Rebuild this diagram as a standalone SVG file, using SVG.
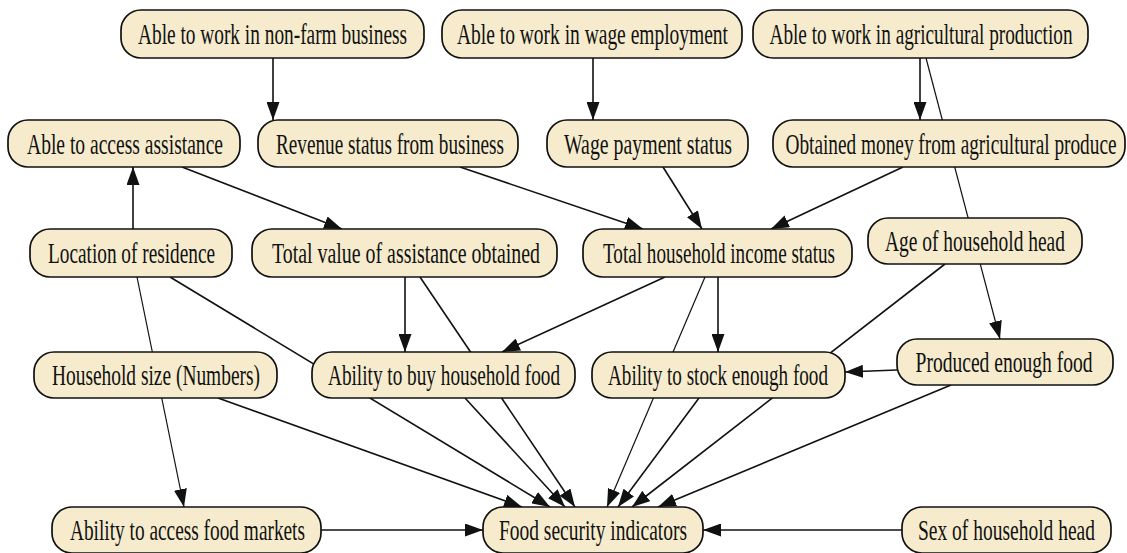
<svg xmlns="http://www.w3.org/2000/svg" width="1127" height="553" viewBox="0 0 1127 553">
<defs>
<style>
.node rect{fill:#F6ECCD;stroke:#111;stroke-width:1.7}
.node text{font-family:"Liberation Serif","Times New Roman",serif;font-size:29px;fill:#111;text-anchor:middle}
.edge line{stroke:#111;stroke-width:1.6;fill:none;marker-end:url(#arr)}
.edge line.thin{stroke-width:1.2}
</style>
<marker id="arr" markerUnits="userSpaceOnUse" markerWidth="19" markerHeight="13" refX="18" refY="6.5" orient="auto">
<path d="M0,0 L18,6.5 L0,13 z" fill="#111"/>
</marker>
</defs>
<rect width="1127" height="553" fill="#fff"/>
<g id="connectors" class="edge">
<line x1="273" y1="58" x2="273" y2="120"/>
<line x1="593" y1="58" x2="593" y2="120"/>
<line x1="920" y1="58" x2="920" y2="120"/>
<line class="thin" x1="926" y1="58" x2="1000" y2="339"/>
<line x1="133" y1="229" x2="133" y2="167"/>
<line x1="182" y1="167" x2="342" y2="229"/>
<line x1="460" y1="167" x2="643" y2="229"/>
<line x1="663" y1="167" x2="702" y2="229"/>
<line x1="903" y1="167" x2="771" y2="229"/>
<line x1="170" y1="277" x2="550" y2="507"/>
<line class="thin" x1="137" y1="277" x2="184" y2="507"/>
<line x1="405" y1="277" x2="405" y2="352"/>
<line x1="420" y1="277" x2="575" y2="507"/>
<line x1="665" y1="277" x2="502" y2="352"/>
<line x1="718" y1="277" x2="718" y2="352"/>
<line class="thin" x1="705" y1="277" x2="607" y2="507"/>
<line x1="945" y1="264" x2="632" y2="507"/>
<line x1="897" y1="370" x2="845" y2="372"/>
<line x1="218" y1="398" x2="522" y2="507"/>
<line x1="465" y1="398" x2="565" y2="507"/>
<line x1="699" y1="398" x2="618" y2="507"/>
<line x1="951" y1="385" x2="658" y2="507"/>
<line x1="321" y1="530" x2="483" y2="530"/>
<line x1="902" y1="530" x2="703" y2="530"/>
</g>
<g id="n_nonfarm" class="node"><rect x="121" y="10" width="303" height="48" rx="20"/><text transform="translate(272.5,44) scale(0.68,1)" textLength="395.6" lengthAdjust="spacingAndGlyphs">Able to work in non-farm business</text></g>
<g id="n_wage_emp" class="node"><rect x="442" y="10" width="300" height="48" rx="20"/><text transform="translate(592.5,44) scale(0.68,1)" textLength="398.5" lengthAdjust="spacingAndGlyphs">Able to work in wage employment</text></g>
<g id="n_agri" class="node"><rect x="753" y="10" width="335" height="48" rx="20"/><text transform="translate(921,44) scale(0.68,1)" textLength="445.6" lengthAdjust="spacingAndGlyphs">Able to work in agricultural production</text></g>
<g id="n_access_assist" class="node"><rect x="8" y="120" width="232" height="47" rx="20"/><text transform="translate(125,153.5) scale(0.68,1)" textLength="288.2" lengthAdjust="spacingAndGlyphs">Able to access assistance</text></g>
<g id="n_revenue" class="node"><rect x="258" y="120" width="260" height="47" rx="20"/><text transform="translate(390,153.5) scale(0.68,1)" textLength="335.3" lengthAdjust="spacingAndGlyphs">Revenue status from business</text></g>
<g id="n_wage_pay" class="node"><rect x="547" y="120" width="201" height="47" rx="20"/><text transform="translate(648,153.5) scale(0.68,1)" textLength="247.1" lengthAdjust="spacingAndGlyphs">Wage payment status</text></g>
<g id="n_obtained" class="node"><rect x="773" y="120" width="352" height="47" rx="20"/><text transform="translate(951,153.5) scale(0.68,1)" textLength="486.8" lengthAdjust="spacingAndGlyphs">Obtained money from agricultural produce</text></g>
<g id="n_location" class="node"><rect x="30" y="229" width="202" height="48" rx="20"/><text transform="translate(131.5,263) scale(0.68,1)" textLength="245.6" lengthAdjust="spacingAndGlyphs">Location of residence</text></g>
<g id="n_total_assist" class="node"><rect x="252" y="229" width="305" height="48" rx="20"/><text transform="translate(406,263) scale(0.68,1)" textLength="394.1" lengthAdjust="spacingAndGlyphs">Total value of assistance obtained</text></g>
<g id="n_income" class="node"><rect x="583" y="229" width="269" height="48" rx="20"/><text transform="translate(719,263) scale(0.68,1)" textLength="341.2" lengthAdjust="spacingAndGlyphs">Total household income status</text></g>
<g id="n_age" class="node"><rect x="868" y="218" width="214" height="46" rx="20"/><text transform="translate(975,251) scale(0.68,1)" textLength="264.7" lengthAdjust="spacingAndGlyphs">Age of household head</text></g>
<g id="n_hhsize" class="node"><rect x="34" y="352" width="243" height="46" rx="20"/><text transform="translate(156,385) scale(0.68,1)" textLength="305.9" lengthAdjust="spacingAndGlyphs">Household size (Numbers)</text></g>
<g id="n_buy" class="node"><rect x="312" y="352" width="263" height="46" rx="20"/><text transform="translate(444,385) scale(0.68,1)" textLength="341.2" lengthAdjust="spacingAndGlyphs">Ability to buy household food</text></g>
<g id="n_stock" class="node"><rect x="592" y="352" width="253" height="46" rx="20"/><text transform="translate(718,385) scale(0.68,1)" textLength="323.5" lengthAdjust="spacingAndGlyphs">Ability to stock enough food</text></g>
<g id="n_produced" class="node"><rect x="897" y="339" width="216" height="46" rx="20"/><text transform="translate(1004,372) scale(0.68,1)" textLength="260.3" lengthAdjust="spacingAndGlyphs">Produced enough food</text></g>
<g id="n_markets" class="node"><rect x="52" y="507" width="269" height="46" rx="20"/><text transform="translate(187.5,540) scale(0.68,1)" textLength="345.6" lengthAdjust="spacingAndGlyphs">Ability to access food markets</text></g>
<g id="n_fsi" class="node"><rect x="483" y="507" width="220" height="46" rx="20"/><text transform="translate(593,540) scale(0.68,1)" textLength="276.5" lengthAdjust="spacingAndGlyphs">Food security indicators</text></g>
<g id="n_sex" class="node"><rect x="902" y="507" width="209" height="46" rx="20"/><text transform="translate(1006.5,540) scale(0.68,1)" textLength="260.3" lengthAdjust="spacingAndGlyphs">Sex of household head</text></g>
</svg>
